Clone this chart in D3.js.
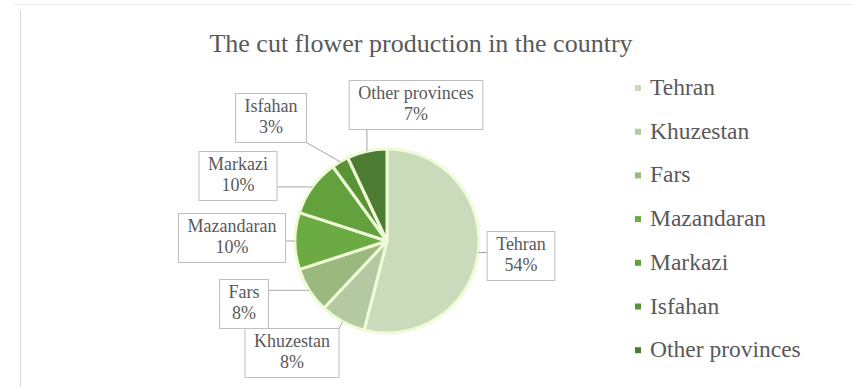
<!DOCTYPE html>
<html>
<head>
<meta charset="utf-8">
<script src="https://cdn.jsdelivr.net/npm/d3@7"></script>
</head>
<body style="margin:0;background:#ffffff">
<svg id="chart" width="853" height="387" style="display:block;font-family:'Liberation Serif',serif"></svg>
<script>
// ---- data ----
const title = "The cut flower production in the country";
const categories = ["Tehran", "Khuzestan", "Fars", "Mazandaran", "Markazi", "Isfahan", "Other provinces"];
const values = [54, 8, 8, 10, 10, 3, 7];
const colors = ["#c9dbbb", "#b4c9a2", "#9bb97f", "#6cab43", "#63a13d", "#5a9236", "#4c7b33"];

// ---- layout (not data) ----
const W = 853, H = 387;
const cx = 387, cy = 241, R = 92;
const FONT = '"Liberation Serif"';
const TXT = "#595959";
// label box centres
const labelCenters = [[521, 256], [292, 353], [244, 304], [232, 238], [238, 176], [271, 118], [416, 105]];

const svg = d3.select("#chart");

// chart frame
svg.append("line").attr("x1", 20.5).attr("x2", 20.5).attr("y1", 10).attr("y2", H)
  .attr("stroke", "#d9d9d9").attr("stroke-width", 1);
svg.append("line").attr("x1", 13).attr("x2", W).attr("y1", 4.5).attr("y2", 4.5)
  .attr("stroke", "#f0f0f0").attr("stroke-width", 1);

function txt(sel, size) {
  return sel.style("font-family", FONT).style("font-size", size + "px").attr("fill", TXT);
}

// title
txt(svg.append("text").attr("x", 421).attr("y", 52).attr("text-anchor", "middle"), 26).text(title);

const total = d3.sum(values);
const data = categories.map((c, i) => ({ name: c, value: values[i], color: colors[i] }));

const pie = d3.pie().value(d => d.value).sort(null).startAngle(0).endAngle(2 * Math.PI);
const arcs = pie(data);
const arc = d3.arc().innerRadius(0).outerRadius(R);

const g = svg.append("g").attr("transform", `translate(${cx},${cy})`);
g.selectAll("path").data(arcs).join("path")
  .attr("d", arc)
  .attr("fill", d => d.data.color)
  .attr("stroke", "#eefbd6")
  .attr("stroke-width", 3)
  .attr("stroke-linejoin", "round");

// labels with leader lines
const fmt = d => Math.round(d.value / total * 100) + "%";
const labelFont = 18;
const lg = svg.append("g");
arcs.forEach((a, i) => {
  const [bx, by] = labelCenters[i];
  const t = lg.append("g");
  const t1 = txt(t.append("text").attr("x", bx).attr("y", by - 6).attr("text-anchor", "middle"), labelFont).text(a.data.name);
  const t2 = txt(t.append("text").attr("x", bx).attr("y", by + 15).attr("text-anchor", "middle"), labelFont).text(fmt(a));
  const tw = Math.max(t1.node().getComputedTextLength(), t2.node().getComputedTextLength());
  const bw = tw + 18, bh = 49;
  const x0 = bx - bw / 2, y0 = by - bh / 2;
  t.insert("rect", "text").attr("x", x0).attr("y", y0).attr("width", bw).attr("height", bh)
    .attr("fill", "#ffffff").attr("stroke", "#bfbfbf").attr("stroke-width", 1);
  // leader line
  const mid = (a.startAngle + a.endAngle) / 2;
  const px = cx + R * Math.sin(mid), py = cy - R * Math.cos(mid);
  const qx = Math.max(x0, Math.min(x0 + bw, px));
  const qy = Math.max(y0, Math.min(y0 + bh, py));
  if (Math.hypot(px - qx, py - qy) > 3) {
    lg.insert("line", ":first-child").attr("x1", qx).attr("y1", qy).attr("x2", px).attr("y2", py)
      .attr("stroke", "#a6a6a6").attr("stroke-width", 1);
  }
});

// legend
const legendX = 638, legendY0 = 88, legendStep = 43.7;
const leg = svg.append("g");
data.forEach((d, i) => {
  const y = legendY0 + i * legendStep;
  leg.append("rect").attr("x", legendX - 3).attr("y", y - 3).attr("width", 6).attr("height", 6)
    .attr("fill", d.color);
  txt(leg.append("text").attr("x", legendX + 12).attr("y", y + 7), 23.5).text(d.name);
});
</script>
</body>
</html>
